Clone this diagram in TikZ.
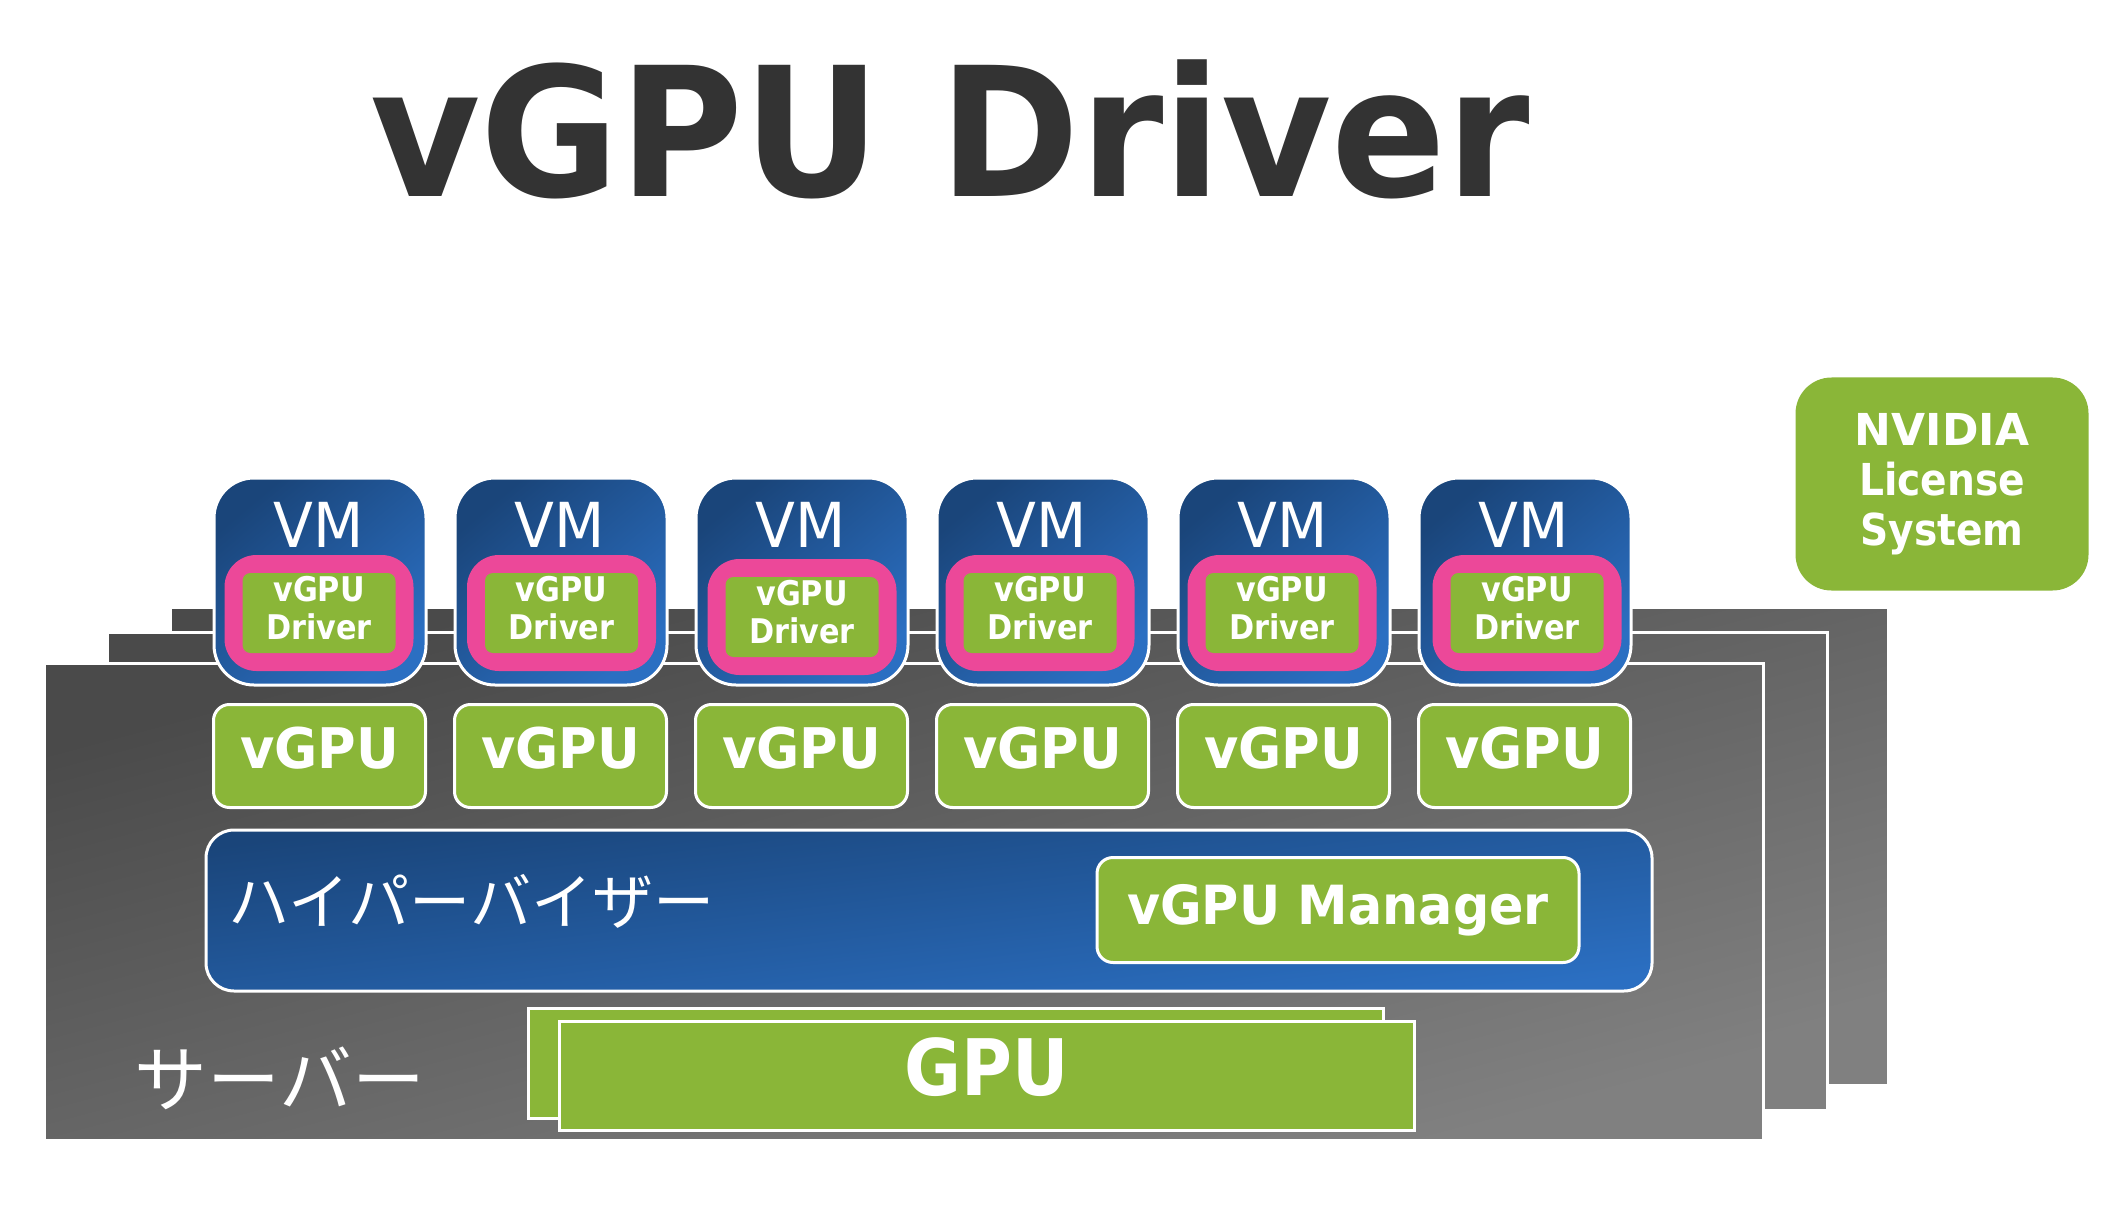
\documentclass[tikz,border=0pt]{standalone}
\usepackage{fontspec}
\usepackage{xcolor}
\usepackage{tikz}
\usetikzlibrary{matrix}
\setmainfont{DejaVu Sans}
\newfontfamily\jpfont{Noto Sans CJK JP}
\newfontfamily\fullb{DejaVu Sans Bold}
\newfontfamily\wideb[FakeStretch=0.94]{DejaVu Sans Bold}
\newfontfamily\narrowb[FakeStretch=0.89]{DejaVu Sans Bold}
\newfontfamily\vmfont[FakeStretch=0.94]{DejaVu Sans}
\definecolor{vgreen}{HTML}{8AB638}
\definecolor{vpink}{HTML}{EC4899}
\definecolor{vblueA}{HTML}{1A457A}
\definecolor{vblueB}{HTML}{2B6FC2}
\definecolor{vgrayA}{HTML}{4A4A4A}
\definecolor{vgrayB}{HTML}{808080}
\definecolor{vtitle}{HTML}{333333}
\tikzset{
	srvbox/.style={draw=white, line width=1.5pt, outer sep=0pt, inner sep=0pt, anchor=north west, top color=vgrayA, bottom color=vgrayB, shading angle=15},
	vmbox/.style={draw=white, line width=1.5pt, outer sep=0pt, inner sep=0pt, rounded corners=20pt, minimum width=106pt, minimum height=103.5pt, anchor=north west, top color=vblueA, bottom color=vblueB, shading angle=40},
	pinkbox/.style={fill=vpink, rounded corners=16pt, outer sep=0pt, inner sep=0pt, minimum width=94.5pt, minimum height=58pt},
	drvbox/.style={fill=vgreen, rounded corners=4pt, outer sep=0pt, inner sep=0pt, minimum width=76.5pt, minimum height=40pt, text=white, align=center, text depth=5pt, font=\narrowb\fontsize{17}{19}\selectfont},
	vmlabel/.style={text=white, anchor=base, inner sep=0pt, font=\vmfont\fontsize{31}{31}\selectfont},
	vgpubox/.style={draw=white, line width=1.5pt, fill=vgreen, rounded corners=8pt, outer sep=0pt, inner sep=0pt, minimum width=106pt, minimum height=51.5pt, text depth=8pt, text=white, font=\wideb\fontsize{28}{28}\selectfont},
	gpubox/.style={draw=white, line width=1.5pt, fill=vgreen, outer sep=0pt, inner sep=0pt, anchor=north west, text depth=9.4pt, text=white, font=\narrowb\fontsize{39}{39}\selectfont},
	jplabel/.style={text=white, anchor=base west, inner sep=0pt}
}
\begin{document}
\begin{tikzpicture}[x=0.5pt, y=-0.5pt]
	\useasboundingbox (0,0) rectangle (2124,1208);
	\node (title) [anchor=base, inner sep=0pt, text=vtitle, font=\wideb\fontsize{90}{90}\selectfont] at (950,197) {vGPU Driver};
	\node (license) [fill=vgreen, rounded corners=18pt, outer sep=0pt, inner sep=0pt, minimum width=146.5pt, minimum height=106.5pt, text=white, align=center, font=\narrowb\fontsize{22}{25}\selectfont] at (1942,484) {{\fullb NVIDIA}\\License\\System};

	\node (srv1) [srvbox, minimum width=859pt, minimum height=239pt] at (170,607) {};
	\node (srv2) [srvbox, minimum width=860pt, minimum height=239pt] at (107,632) {};
	\node (srv3) [srvbox, minimum width=859.5pt, minimum height=238.5pt] at (44,663) {};

	\node (vm1) [vmbox] at (214,478) {};
	\node (vm2) [vmbox] at (455,478) {};
	\node (vm3) [vmbox] at (696,478) {};
	\node (vm4) [vmbox] at (937,478) {};
	\node (vm5) [vmbox] at (1178,478) {};
	\node (vm6) [vmbox] at (1419,478) {};
	\node (vmtext1) [vmlabel] at (319,547) {VM};
	\node (vmtext2) [vmlabel] at (560,547) {VM};
	\node (vmtext3) [vmlabel] at (801,547) {VM};
	\node (vmtext4) [vmlabel] at (1042,547) {VM};
	\node (vmtext5) [vmlabel] at (1283,547) {VM};
	\node (vmtext6) [vmlabel] at (1524,547) {VM};
	\node (pink1) [pinkbox] at (319,613) {};
	\node (pink2) [pinkbox] at (561.5,613) {};
	\node (pink3) [pinkbox] at (802,617) {};
	\node (pink4) [pinkbox] at (1040,613) {};
	\node (pink5) [pinkbox] at (1282,613) {};
	\node (pink6) [pinkbox] at (1527,613) {};
	\node (drv1) [drvbox] at (319,613) {vGPU\\Driver};
	\node (drv2) [drvbox] at (561.5,613) {vGPU\\Driver};
	\node (drv3) [drvbox] at (802,617) {vGPU\\Driver};
	\node (drv4) [drvbox] at (1040,613) {vGPU\\Driver};
	\node (drv5) [drvbox] at (1282,613) {vGPU\\Driver};
	\node (drv6) [drvbox] at (1527,613) {vGPU\\Driver};

	\matrix(vgpus)[matrix of nodes, nodes={vgpubox}, column sep=13pt, anchor=north west, inner sep=0pt, outer sep=0pt] at (212,703){
		vGPU	&vGPU	&vGPU	&vGPU	&vGPU	&vGPU\\
	};

	\node (hyper) [draw=white, line width=1.5pt, outer sep=0pt, inner sep=0pt, rounded corners=14pt, anchor=north west, minimum width=723pt, minimum height=80.5pt, top color=vblueA, bottom color=vblueB, shading angle=7] at (206,830) {};
	\node (hypertext) [jplabel, font=\jpfont\fontsize{30.6}{30.6}\selectfont] at (228,924) {ハイパーバイザー};
	\node (manager) [draw=white, line width=1.5pt, fill=vgreen, rounded corners=8pt, outer sep=0pt, inner sep=0pt, minimum width=241pt, minimum height=52.5pt, text=white, font=\wideb\fontsize{27}{27}\selectfont] at (1338,910) {vGPU Manager};

	\node (gpu1) [gpubox, minimum width=427.5pt, minimum height=55pt] at (528,1008.5) {};
	\node (gpu2) [gpubox, minimum width=427.5pt, minimum height=54.5pt] at (559,1021.5) {GPU};
	\node (srvtext) [jplabel, font=\jpfont\fontsize{36.4}{36.4}\selectfont] at (134,1106) {サーバー};
\end{tikzpicture}
\end{document}
